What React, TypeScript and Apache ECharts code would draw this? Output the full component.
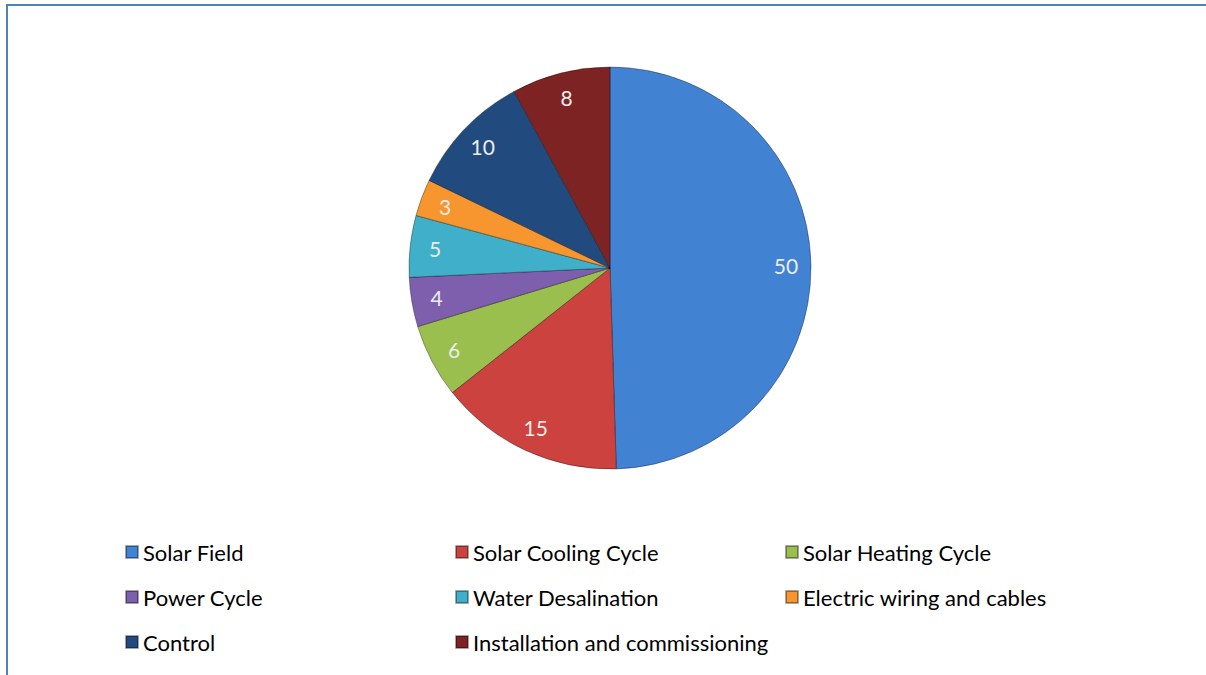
import React, { useEffect, useRef } from "react";
import * as echarts from "echarts";

const categories = [
  "Solar Field",
  "Solar Cooling Cycle",
  "Solar Heating Cycle",
  "Power Cycle",
  "Water Desalination",
  "Electric wiring and cables",
  "Control",
  "Installation and commissioning",
];
const values = [50, 15, 6, 4, 5, 3, 10, 8];
const colors = ["#4282d2", "#cc423f", "#9bbf4f", "#7d5fae", "#40afca", "#f7952f", "#214b7e", "#7d2323"];
const legendRows = [
  ["Solar Field", "Solar Cooling Cycle", "Solar Heating Cycle"],
  ["Power Cycle", "Water Desalination", "Electric wiring and cables"],
  ["Control", "Installation and commissioning"],
];

export default function App() {
  const ref = useRef<HTMLDivElement>(null);
  useEffect(() => {
    if (!ref.current) return;
    const chart = echarts.init(ref.current, null, { renderer: "svg" });
    const data = categories.map((name, i) => ({
      name,
      value: values[i],
      itemStyle: { color: colors[i] },
    }));
    const rowTops = [541, 586, 631];
    const colLefts = [125, 455, 785];
    const legends: any[] = [];
    legendRows.forEach((row, r) =>
      row.forEach((name, c) =>
        legends.push({
          data: [name],
          left: colLefts[c],
          top: rowTops[r],
          padding: 0,
          icon: "rect",
          itemWidth: 12,
          itemHeight: 12,
          selectedMode: false,
          textStyle: {
            fontFamily: "Lato, 'Noto Sans', sans-serif",
            fontSize: 22,
            color: "#000000",
          },
        })
      )
    );
    chart.setOption({
      animation: false,
      backgroundColor: "#ffffff",
      legend: legends,
      graphic: [
        { type: "rect", shape: { x: 6, y: 4, width: 2, height: 671 }, style: { fill: "#4f81bd" } },
        { type: "rect", shape: { x: 6, y: 4, width: 1200, height: 2 }, style: { fill: "#4f81bd" } },
      ],
      series: [
        {
          type: "pie",
          center: [610, 268],
          radius: [0, 201],
          startAngle: 90,
          clockwise: true,
          label: { show: false },
          labelLine: { show: false },
          itemStyle: { borderColor: "rgba(0,0,0,0.35)", borderWidth: 1 },
          emphasis: { disabled: true },
          data,
        },
        {
          type: "pie",
          center: [610, 268],
          radius: [145, 201],
          startAngle: 90,
          clockwise: true,
          silent: true,
          itemStyle: { color: "transparent", borderWidth: 0 },
          label: {
            show: true,
            position: "inside",
            formatter: "{c}",
            color: "#ececec",
            fontSize: 21,
            fontFamily: "Lato, 'Noto Sans', sans-serif",
          },
          labelLine: { show: false },
          emphasis: { disabled: true },
          data: categories.map((name, i) => ({ name, value: values[i], itemStyle: { color: "transparent" } })),
        },
      ],
    });
    return () => chart.dispose();
  }, []);
  return (
    <div
      ref={ref}
      style={{ position: "absolute", left: 0, top: 0, width: 1206, height: 675 }}
    />
  );
}
